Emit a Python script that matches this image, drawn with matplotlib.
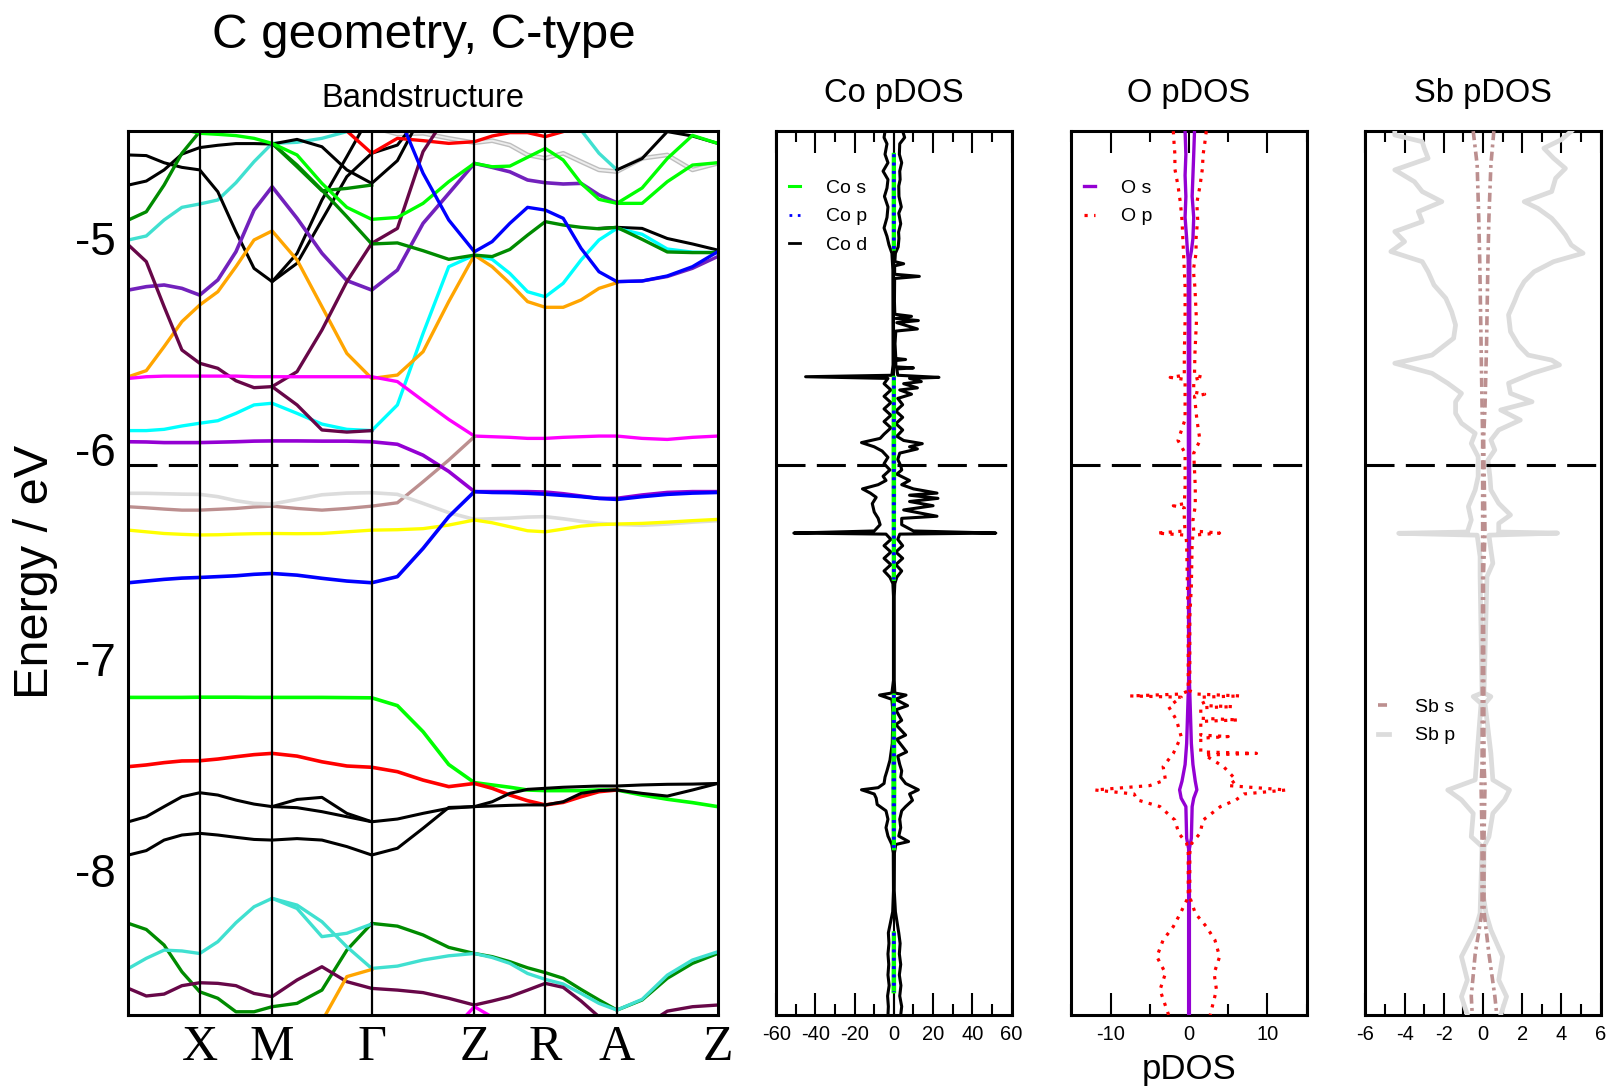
import numpy as np
import matplotlib
matplotlib.use("Agg")
import matplotlib.pyplot as plt
from matplotlib.ticker import MultipleLocator

nan = float("nan")
plt.rcParams["font.family"] = ["Liberation Sans", "DejaVu Sans"]

# ---------------- band structure data ----------------
k_nodes = [0.0, 1.86, 3.75, 6.35, 9.03, 10.88, 12.75, 15.38]
k_labels = ["", "X", "M", "Γ", "Z", "R", "A", "Z"]
e_fermi = -6.075
e_min, e_max = -8.689, -4.487

N = [nan]

magenta = [-5.665, -5.657, -5.654, -5.654, -5.654, -5.654, -5.654, -5.657, -5.657, -5.657, -5.657, -5.657, -5.657,
           -5.680, -5.771, -5.860, -5.939, -5.942, -5.945, -5.950, -5.950, -5.945, -5.942, -5.939, -5.939, -5.950,
           -5.955, -5.945, -5.939]
magenta_lo = N * 15 + [-8.78, -8.651, -8.70, -8.78] + N * 10
violet = [-5.966, -5.967, -5.970, -5.970, -5.970, -5.968, -5.966, -5.963, -5.962, -5.962, -5.963, -5.963, -5.966,
          -5.978, -6.030, -6.107, -6.203, -6.203, -6.203, -6.203, -6.205, -6.213, -6.224, -6.235, -6.235, -6.219,
          -6.207, -6.203, -6.203]
cyan = [-5.913, -5.913, -5.907, -5.891, -5.878, -5.866, -5.831, -5.791, -5.783, -5.831, -5.882, -5.907, -5.913,
        -5.791, -5.451, -5.134, -5.079, -5.099, -5.166, -5.253, -5.277, -5.213, -5.102, -5.007, -4.952, -4.98,
        -5.05, -5.065, -5.067]
orange = [-5.657, -5.628, -5.514, -5.395, -5.316, -5.253, -5.134, -5.007, -4.964, -5.102, -5.324, -5.546, -5.665,
          -5.649, -5.538, -5.300, -5.079, -5.134, -5.213, -5.300, -5.327, -5.327, -5.292, -5.237, -5.210] + N * 4
orange_lo = N * 10 + [-8.72, -8.508, -8.474] + N * 16
maroon_a = [-5.031, -5.110, -5.324, -5.530, -5.593, -5.617, -5.676, -5.709, -5.704, -5.791, -5.910, -5.920,
            -5.913] + N * 16
maroon_b = N * 8 + [-5.704, -5.633, -5.435, -5.205, -5.023, -4.952, -4.587, -4.40] + N * 13
maroon_lo = [-8.564, -8.600, -8.591, -8.551, -8.537, -8.540, -8.551, -8.588, -8.603, -8.524, -8.461, -8.532, -8.564,
             -8.572, -8.584, -8.611, -8.643, -8.624, -8.603, -8.572, -8.540, -8.559, -8.624, -8.699, -8.76, -8.75,
             -8.672, -8.651, -8.643]
indigo = [-5.245, -5.229, -5.221, -5.237, -5.269, -5.197, -5.063, -4.865, -4.754, -4.904, -5.070, -5.200, -5.245,
          -5.150, -4.928, -4.786, -4.643, -4.662, -4.683, -4.722, -4.735, -4.741, -4.738, -4.793, -4.830] + N * 4
indigo_b = N * 24 + [-5.205, -5.202, -5.181, -5.142, -5.086]
blue_up = N * 13 + [-4.40, -4.690, -4.912, -5.063, -5.015, -4.928, -4.852, -4.865, -4.904, -5.047, -5.158, -5.205,
                    -5.202, -5.178, -5.134, -5.063]
blue_lo = [-6.636, -6.628, -6.620, -6.614, -6.611, -6.607, -6.603, -6.596, -6.592, -6.600, -6.615, -6.628, -6.636,
           -6.607, -6.473, -6.322, -6.203, -6.207, -6.208, -6.211, -6.215, -6.221, -6.227, -6.235, -6.240, -6.227,
           -6.216, -6.210, -6.207]
yellow = [-6.386, -6.394, -6.402, -6.406, -6.409, -6.408, -6.405, -6.403, -6.402, -6.403, -6.402, -6.394, -6.386,
          -6.384, -6.379, -6.362, -6.338, -6.351, -6.370, -6.389, -6.394, -6.381, -6.367, -6.360, -6.357, -6.354,
          -6.348, -6.341, -6.335]
brown = [-6.275, -6.280, -6.286, -6.291, -6.291, -6.287, -6.283, -6.276, -6.272, -6.283, -6.291, -6.283, -6.272,
         -6.256, -6.156, -6.053, -5.942] + N * 12
grey_lo = [-6.211, -6.211, -6.213, -6.215, -6.216, -6.227, -6.246, -6.259, -6.262, -6.240, -6.218, -6.210, -6.208,
           -6.216, -6.259, -6.303, -6.335, -6.332, -6.329, -6.324, -6.322, -6.332, -6.344, -6.354, -6.359, -6.363,
           -6.357, -6.348, -6.341]
grey_up = N * 12 + [-4.47, -4.504, -4.500, -4.524, -4.545, -4.535, -4.556, -4.603, -4.619, -4.595, -4.635, -4.674,
                    -4.682, -4.619, -4.603, -4.674, -4.643]
lime_lo = [-7.181, -7.181, -7.181, -7.181, -7.180, -7.180, -7.180, -7.181, -7.181, -7.181, -7.181, -7.182, -7.183,
           -7.220, -7.344, -7.500, -7.586, -7.597, -7.608, -7.621, -7.624, -7.624, -7.624, -7.621, -7.621, -7.645,
           -7.665, -7.681, -7.700]
lime_up = N * 3 + [-4.48, -4.500, -4.505, -4.511, -4.524, -4.548, -4.603, -4.738, -4.852, -4.909, -4.900, -4.833,
                   -4.730, -4.643, -4.659, -4.656, -4.614, -4.572, -4.627, -4.738, -4.814, -4.833, -4.833, -4.730,
                   -4.651, -4.640]
lime_b = N * 24 + [-4.833, -4.76, -4.62, -4.51, -4.548]
green4_a = [-4.912, -4.873, -4.746, -4.595, -4.492, -4.45] + N * 23
green4_b = N * 8 + [-4.548, -4.651, -4.770, -4.896, -5.026, -5.021, -5.058, -5.099, -5.079, -5.086, -5.052, -4.984,
                    -4.920, -4.936, -4.947, -4.954, -4.947, -5.004, -5.064, -5.067, -5.067]
green4_c = N * 8 + [-4.548, -4.659, -4.773, -4.762, -4.746] + N * 16
green4_lo = [-8.255, -8.284, -8.358, -8.485, -8.580, -8.611, -8.675, -8.675, -8.651, -8.635, -8.572, -8.382, -8.255,
             -8.268, -8.310, -8.369, -8.398, -8.413, -8.437, -8.466, -8.489, -8.516, -8.569, -8.619, -8.667, -8.619,
             -8.516, -8.445, -8.398]
turq_a = [-5.007, -4.988, -4.912, -4.852, -4.836, -4.817, -4.735, -4.635, -4.548, -4.543, -4.524, -4.492,
          -4.40] + N * 16
turq_b = N * 21 + [-4.42, -4.485, -4.595, -4.674] + N * 4
turq_lo = [-8.469, -8.421, -8.382, -8.386, -8.398, -8.342, -8.252, -8.176, -8.136, -8.168, -8.247, -8.366, -8.469,
           -8.458, -8.429, -8.409, -8.398, -8.417, -8.445, -8.493, -8.521, -8.543, -8.588, -8.635, -8.667, -8.616,
           -8.501, -8.429, -8.390]
turq_lo_b = N * 8 + [-8.136, -8.184, -8.318, -8.302, -8.258] + N * 16
black_a = [-4.603, -4.606, -4.640, -4.662, -4.674, -4.778, -4.968, -5.142, -5.205, -5.071, -4.817, -4.611,
           -4.40] + N * 16
black_b = [-4.746, -4.727, -4.674, -4.599, -4.568, -4.557, -4.549, -4.549, -4.551, -4.529, -4.564, -4.674, -4.738,
           -4.630, -4.40] + N * 14
black_c = N * 8 + [-5.205, -5.118, -4.912, -4.706, -4.595, -4.556, -4.40] + N * 14
black_d = N * 24 + [-4.674, -4.62, -4.492, -4.513, -4.548]
black_e = N * 23 + [-4.952, -4.947, -4.952, -5.000, -5.026, -5.055]
red_up = N * 10 + [-4.42, -4.489, -4.595, -4.524, -4.535, -4.548, -4.540, -4.513, -4.497, -4.497, -4.516, -4.492,
                   -4.42] + N * 6
red_lo = [-7.510, -7.502, -7.491, -7.483, -7.482, -7.474, -7.463, -7.453, -7.447, -7.460, -7.487, -7.507, -7.513,
          -7.534, -7.574, -7.605, -7.590, -7.613, -7.645, -7.672, -7.692, -7.680, -7.653, -7.629, -7.621] + N * 4
black_lo1 = [-7.772, -7.748, -7.700, -7.653, -7.634, -7.645, -7.669, -7.688, -7.700, -7.666, -7.656, -7.732, -7.772,
             -7.759, -7.732, -7.708, -7.700, -7.677, -7.637, -7.618, -7.613, -7.608, -7.605, -7.602, -7.602, -7.597,
             -7.594, -7.593, -7.590]
black_lo2 = N * 8 + [-7.700, -7.705, -7.724, -7.748, -7.772] + N * 16
black_lo3 = [-7.930, -7.909, -7.859, -7.835, -7.827, -7.835, -7.846, -7.856, -7.859, -7.852, -7.859, -7.890, -7.930,
             -7.898, -7.803, -7.704, -7.700, -7.697, -7.694, -7.692, -7.692, -7.677, -7.637, -7.624, -7.621, -7.637,
             -7.650, -7.621, -7.590]

bands = [
    (grey_up, "#BEBEBE", 3.4), (grey_up, "#EDEDED", 1.4),
    (turq_a, "#40E0D0", 2.4), (turq_b, "#40E0D0", 2.4),
    (black_a, "black", 2.2), (black_b, "black", 2.2), (black_c, "black", 2.2),
    (black_d, "black", 2.2), (black_e, "black", 2.2), (red_up, "red", 2.4),
    (cyan, "cyan", 2.4), (orange, "orange", 2.4), (indigo, "#7221BC", 2.6), (indigo_b, "#7221BC", 2.4),
    (maroon_a, "#670748", 2.4), (maroon_b, "#670748", 2.4),
    (green4_a, "#008B00", 2.4), (green4_b, "#008B00", 2.4), (green4_c, "#008B00", 2.4),
    (lime_up, "#00FF00", 2.4), (lime_b, "#00FF00", 2.4), (blue_up, "blue", 2.4),
    (magenta, "magenta", 2.4), (brown, "#BC8F8F", 2.4), (violet, "#9400D3", 2.6),
    (grey_lo, "#DCDCDC", 2.6), (yellow, "yellow", 2.4), (blue_lo, "blue", 2.6),
    (lime_lo, "#00FF00", 2.6), (red_lo, "red", 2.6),
    (black_lo1, "black", 2.2), (black_lo2, "black", 2.2), (black_lo3, "black", 2.2),
    (green4_lo, "#008B00", 2.4), (turq_lo, "#40E0D0", 2.4), (turq_lo_b, "#40E0D0", 2.4),
    (maroon_lo, "#670748", 2.4), (orange_lo, "orange", 2.4), (magenta_lo, "magenta", 2.4),
]

# ---------------- pDOS data: (energy, value), spin up right / spin down left ----------------
co_d_up = [(-4.49, 4.5), (-4.52, 5.5), (-4.55, 3.0), (-4.60, 2.8), (-4.64, 4.0), (-4.68, 3.0), (-4.72, 3.2),
           (-4.75, 2.5), (-4.80, 2.6), (-4.85, 3.8), (-4.88, 2.5), (-4.93, 3.5), (-4.97, 2.4), (-5.00, 2.6),
           (-5.04, 2.2), (-5.07, 0.8), (-5.11, 0.5), (-5.12, 5.0), (-5.13, 0.4), (-5.17, 0.4), (-5.18, 13.0),
           (-5.19, 0.4), (-5.30, 0.3), (-5.36, 0.5), (-5.37, 9.0), (-5.38, 1.0), (-5.39, 12.5), (-5.40, 1.5),
           (-5.43, 12.0), (-5.44, 1.0), (-5.50, 0.6), (-5.57, 1.0), (-5.575, 6.0), (-5.58, 1.0), (-5.61, 1.0),
           (-5.615, 10.0), (-5.62, 1.5), (-5.65, 2.0), (-5.66, 23.0), (-5.665, 8.0), (-5.68, 14.0), (-5.69, 5.0),
           (-5.71, 12.0), (-5.72, 3.0), (-5.74, 9.0), (-5.76, 2.0), (-5.79, 4.5), (-5.82, 1.0), (-5.85, 4.5),
           (-5.88, 1.0), (-5.91, 4.5), (-5.94, 1.5), (-5.96, 5.0), (-5.975, 14.5), (-5.99, 8.0), (-6.00, 12.0),
           (-6.02, 3.0), (-6.05, 2.0), (-6.08, 3.5), (-6.10, 4.0), (-6.12, 1.5), (-6.15, 8.0), (-6.17, 4.0),
           (-6.19, 10.0), (-6.21, 22.0), (-6.22, 8.0), (-6.235, 22.5), (-6.25, 8.0), (-6.27, 20.0), (-6.29, 5.0),
           (-6.32, 22.0), (-6.33, 4.0), (-6.36, 4.0), (-6.39, 10.0), (-6.40, 52.0), (-6.405, 3.0), (-6.43, 2.0),
           (-6.46, 4.5), (-6.49, 1.0), (-6.52, 4.5), (-6.55, 1.0), (-6.58, 4.0), (-6.61, 1.5), (-6.64, 0.5),
           (-6.70, 0.2), (-7.10, 0.2), (-7.16, 0.5), (-7.17, 6.2), (-7.19, 0.8), (-7.22, 7.0), (-7.24, 1.0),
           (-7.29, 4.0), (-7.31, 1.0), (-7.36, 6.0), (-7.38, 1.5), (-7.44, 6.5), (-7.46, 2.0), (-7.50, 3.0),
           (-7.53, 4.0), (-7.56, 3.5), (-7.59, 6.0), (-7.62, 12.5), (-7.64, 8.0), (-7.67, 9.5), (-7.70, 6.0),
           (-7.72, 4.0), (-7.76, 3.0), (-7.80, 3.5), (-7.84, 2.5), (-7.866, 7.5), (-7.88, 1.0), (-7.92, 0.3),
           (-8.10, 0.2), (-8.20, 0.8), (-8.30, 2.5), (-8.35, 3.2), (-8.40, 2.8), (-8.45, 3.5), (-8.50, 2.8),
           (-8.55, 3.6), (-8.60, 3.0), (-8.65, 4.0), (-8.69, 3.5)]
co_d_dn = [(-4.49, 4.5), (-4.52, 5.0), (-4.55, 3.5), (-4.60, 4.5), (-4.64, 3.0), (-4.68, 5.5), (-4.72, 3.0),
           (-4.76, 3.5), (-4.80, 4.8), (-4.85, 3.0), (-4.90, 3.5), (-4.95, 5.0), (-4.99, 3.5), (-5.03, 2.5),
           (-5.07, 1.0), (-5.15, 0.5), (-5.60, 0.4), (-5.65, 1.0), (-5.657, 45.0), (-5.665, 3.0), (-5.69, 5.0),
           (-5.72, 1.5), (-5.75, 5.0), (-5.78, 1.5), (-5.81, 5.0), (-5.84, 1.5), (-5.87, 5.0), (-5.90, 1.5),
           (-5.93, 5.0), (-5.95, 7.0), (-5.97, 16.5), (-5.99, 10.0), (-6.01, 6.0), (-6.04, 3.0), (-6.07, 5.0),
           (-6.10, 2.0), (-6.13, 5.5), (-6.15, 4.0), (-6.17, 8.0), (-6.19, 16.0), (-6.21, 12.0), (-6.23, 9.0),
           (-6.26, 11.0), (-6.30, 10.0), (-6.33, 8.0), (-6.36, 7.0), (-6.39, 10.0), (-6.40, 51.0), (-6.405, 4.0),
           (-6.43, 1.5), (-6.46, 5.0), (-6.49, 1.5), (-6.52, 5.0), (-6.55, 1.5), (-6.58, 5.0), (-6.61, 2.0),
           (-6.64, 0.5), (-6.70, 0.2), (-7.10, 0.2), (-7.16, 1.0), (-7.17, 7.3), (-7.19, 1.0), (-7.25, 0.5),
           (-7.40, 0.8), (-7.48, 2.0), (-7.53, 3.5), (-7.56, 4.5), (-7.59, 5.0), (-7.61, 8.0), (-7.62, 16.5),
           (-7.64, 10.0), (-7.66, 9.0), (-7.69, 8.5), (-7.72, 4.0), (-7.76, 3.0), (-7.80, 4.0), (-7.84, 3.0),
           (-7.88, 1.0), (-7.92, 0.3), (-8.10, 0.2), (-8.20, 0.6), (-8.30, 2.8), (-8.35, 2.5), (-8.40, 3.0),
           (-8.45, 2.6), (-8.50, 3.0), (-8.55, 2.4), (-8.60, 3.2), (-8.65, 2.8), (-8.69, 3.0)]
co_s = [(-4.60, 0.3), (-4.80, 0.35), (-5.05, 0.3), (nan, nan), (-5.66, 0.3), (-6.00, 0.4), (-6.30, 0.35),
        (-6.62, 0.3), (nan, nan), (-7.17, 0.3), (-7.60, 0.5), (-7.90, 0.3), (nan, nan), (-8.30, 0.3), (-8.58, 0.4)]
co_p = [(-4.60, 0.25), (-4.80, 0.3), (-5.05, 0.25), (nan, nan), (-5.66, 0.25), (-6.00, 0.3), (-6.30, 0.3),
        (-6.62, 0.25), (nan, nan), (-7.17, 0.25), (-7.60, 0.4), (-7.90, 0.25), (nan, nan), (-8.30, 0.25),
        (-8.58, 0.3)]

o_p_up = [(-4.49, 2.2), (-4.55, 2.0), (-4.60, 1.8), (-4.67, 1.7), (-4.75, 1.4), (-4.83, 1.0), (-4.91, 1.1),
          (-5.00, 0.9), (-5.07, 0.9), (-5.15, 0.55), (-5.23, 0.75), (-5.39, 0.95), (-5.55, 0.75), (-5.65, 0.7),
          (-5.66, 1.8), (-5.67, 0.6), (-5.73, 0.6), (-5.74, 2.0), (-5.75, 0.7), (-5.86, 1.0), (-5.96, 1.4),
          (-6.02, 0.6), (-6.18, 0.8), (-6.27, 0.8), (-6.34, 0.5), (-6.39, 0.6), (-6.40, 3.9), (-6.41, 0.5),
          (-6.45, 0.4), (-6.65, 0.3), (-6.80, 0.1), (-7.15, 0.1), (-7.165, 1.0), (-7.174, 6.5), (-7.18, 1.5),
          (-7.22, 2.0), (-7.225, 5.6), (-7.23, 1.5), (-7.28, 1.5), (-7.288, 6.3), (-7.295, 1.5), (-7.36, 1.5),
          (-7.367, 5.0), (-7.375, 1.5), (-7.44, 1.5), (-7.447, 8.6), (-7.455, 2.0), (-7.51, 4.4), (-7.573, 6.0),
          (-7.60, 5.0), (-7.621, 12.4), (-7.64, 7.0), (-7.668, 6.0), (-7.70, 4.0), (-7.764, 1.8), (-7.827, 1.4),
          (-7.874, 0.35), (-7.92, 0.1), (-8.13, 0.1), (-8.207, 0.8), (-8.27, 2.2), (-8.334, 3.3), (-8.413, 3.9),
          (-8.492, 3.2), (-8.571, 3.5), (-8.69, 2.7)]
o_p_dn = [(-4.49, 2.0), (-4.55, 1.9), (-4.60, 1.8), (-4.67, 1.8), (-4.75, 1.4), (-4.83, 1.1), (-4.91, 0.9),
          (-5.07, 0.7), (-5.15, 0.6), (-5.23, 0.5), (-5.39, 0.5), (-5.55, 0.6), (-5.65, 0.6), (-5.66, 2.4),
          (-5.67, 0.5), (-5.86, 0.5), (-5.96, 1.4), (-6.02, 0.5), (-6.18, 0.5), (-6.26, 0.6), (-6.27, 2.0),
          (-6.28, 0.6), (-6.34, 0.6), (-6.39, 0.5), (-6.40, 4.1), (-6.41, 0.4), (-6.45, 0.3), (-6.65, 0.2),
          (-6.80, 0.1), (-7.15, 0.1), (-7.165, 1.0), (-7.174, 7.5), (-7.18, 1.0), (-7.225, 2.6), (-7.288, 1.6),
          (-7.367, 1.0), (-7.447, 2.0), (-7.51, 3.3), (-7.573, 3.0), (-7.60, 5.0), (-7.621, 12.0), (-7.64, 7.0),
          (-7.668, 6.6), (-7.70, 3.7), (-7.764, 1.8), (-7.827, 1.3), (-7.874, 0.3), (-7.92, 0.1), (-8.13, 0.1),
          (-8.207, 1.1), (-8.27, 2.0), (-8.334, 3.3), (-8.413, 4.1), (-8.492, 3.0), (-8.571, 3.7), (-8.69, 2.6)]
o_s_up = [(-4.49, 0.7), (-4.60, 0.6), (-4.70, 0.5), (-4.80, 0.4), (-4.90, 0.6), (-5.00, 0.5), (-5.06, 0.3),
          (-5.10, 0.1), (-7.10, 0.05), (-7.40, 0.3), (-7.50, 0.5), (-7.58, 0.8), (-7.62, 1.0), (-7.66, 0.6),
          (-7.70, 0.4), (-7.85, 0.3), (-7.90, 0.05), (-8.69, 0.05)]
o_s_dn = [(-4.49, 0.5), (-4.60, 0.4), (-4.70, 0.5), (-4.80, 0.4), (-4.90, 0.5), (-5.00, 0.3), (-5.06, 0.2),
          (-5.10, 0.1), (-7.10, 0.05), (-7.40, 0.3), (-7.50, 0.5), (-7.58, 0.9), (-7.62, 1.2), (-7.66, 1.0),
          (-7.70, 0.4), (-7.85, 0.3), (-7.90, 0.05), (-8.69, 0.05)]

sb_p_up = [(-4.49, 4.5), (-4.53, 4.0), (-4.571, 3.1), (-4.619, 3.6), (-4.667, 4.2), (-4.714, 3.7), (-4.777, 3.5),
           (-4.825, 2.1), (-4.857, 2.8), (-4.904, 3.5), (-4.936, 3.8), (-4.983, 4.2), (-5.031, 4.5), (-5.070, 5.1),
           (-5.110, 3.6), (-5.158, 2.6), (-5.205, 2.1), (-5.253, 1.8), (-5.300, 1.6), (-5.363, 1.3), (-5.443, 1.4),
           (-5.506, 1.8), (-5.554, 2.3), (-5.578, 3.5), (-5.601, 3.9), (-5.641, 2.5), (-5.688, 1.3), (-5.736, 1.4),
           (-5.776, 2.5), (-5.815, 0.9), (-5.863, 1.9), (-5.910, 0.8), (-5.958, 0.4), (-6.005, 0.6), (-6.053, 0.25),
           (-6.132, 0.35), (-6.195, 0.4), (-6.259, 0.8), (-6.314, 1.4), (-6.354, 0.8), (-6.395, 0.8), (-6.400, 3.8),
           (-6.41, 0.3), (-6.480, 0.4), (-6.544, 0.5), (-6.607, 0.2), (-7.16, 0.05), (-7.177, 0.4), (-7.21, 0.1),
           (-7.29, 0.2), (-7.447, 0.4), (-7.573, 0.5), (-7.621, 1.35), (-7.668, 1.1), (-7.732, 0.5), (-7.843, 0.3),
           (-7.89, 0.05), (-8.128, 0.02), (-8.207, 0.15), (-8.286, 0.4), (-8.413, 1.0), (-8.524, 0.8),
           (-8.603, 1.2), (-8.69, 0.9)]
sb_p_dn = [(-4.49, 4.5), (-4.508, 4.5), (-4.540, 3.1), (-4.571, 3.0), (-4.619, 2.8), (-4.674, 4.5), (-4.730, 3.5),
           (-4.777, 3.1), (-4.825, 2.1), (-4.872, 3.3), (-4.920, 3.1), (-4.967, 4.5), (-5.015, 4.0), (-5.062, 4.7),
           (-5.110, 3.1), (-5.158, 2.8), (-5.221, 2.5), (-5.284, 1.9), (-5.348, 1.6), (-5.411, 1.4), (-5.474, 1.5),
           (-5.554, 2.6), (-5.593, 4.5), (-5.641, 2.6), (-5.688, 1.8), (-5.736, 1.1), (-5.776, 1.4), (-5.831, 1.4),
           (-5.878, 1.1), (-5.926, 0.4), (-5.974, 0.6), (-6.037, 0.25), (-6.132, 0.25), (-6.195, 0.4),
           (-6.274, 0.75), (-6.338, 0.6), (-6.395, 0.8), (-6.401, 4.3), (-6.41, 0.3), (-6.512, 0.15),
           (-6.607, 0.15), (-7.16, 0.05), (-7.177, 0.5), (-7.21, 0.1), (-7.447, 0.3), (-7.573, 0.4), (-7.621, 1.8),
           (-7.668, 1.1), (-7.732, 0.5), (-7.843, 0.6), (-7.89, 0.05), (-8.207, 0.15), (-8.286, 0.4), (-8.413, 1.1),
           (-8.524, 0.8), (-8.603, 1.1), (-8.69, 0.8)]
sb_s_up = [(-4.49, 0.55), (-4.65, 0.4), (-4.90, 0.3), (-5.10, 0.25), (-5.50, 0.18), (-5.80, 0.1), (-5.95, 0.03),
           (-6.40, 0.1), (-6.60, 0.02), (-7.50, 0.05), (-7.60, 0.1), (-7.85, 0.05), (-8.20, 0.05), (-8.40, 0.3),
           (-8.60, 0.6), (-8.69, 0.7)]
sb_s_dn = [(-4.49, 0.5), (-4.65, 0.3), (-4.90, 0.22), (-5.10, 0.17), (-5.50, 0.1), (-5.80, 0.05), (-5.95, 0.02),
           (-6.60, 0.02), (-7.50, 0.05), (-7.60, 0.1), (-7.85, 0.05), (-8.20, 0.05), (-8.40, 0.4), (-8.60, 0.6),
           (-8.69, 0.55)]


def unzip(pairs):
    e, v = zip(*pairs)
    return np.array(v), np.array(e)


fig = plt.figure(figsize=(16.12, 10.87), dpi=100)

# ---------------- band structure ----------------
ax = fig.add_axes([0.0797, 0.0665, 0.3655, 0.8134])
kpath = np.concatenate([np.linspace(a, b, 5)[:-1] for a, b in zip(k_nodes[:-1], k_nodes[1:])] + [[k_nodes[-1]]])
for vals, col, lw in bands:
    ax.plot(kpath, vals, color=col, lw=lw, solid_joinstyle="round")
for kn in k_nodes[1:-1]:
    ax.axvline(kn, color="black", lw=1.6, zorder=5)
ax.axhline(e_fermi, color="black", lw=2.2, dashes=(9.5, 3.7), zorder=6)
ax.set_xlim(k_nodes[0], k_nodes[-1])
ax.set_ylim(e_min, e_max)
ax.set_xticks([])
ax.set_yticks([-5, -6, -7, -8])
ax.set_yticklabels(["-5", "-6", "-7", "-8"])
ax.tick_params(axis="y", length=0, pad=9, labelsize=33)
for kn, lab in zip(k_nodes, k_labels):
    ax.text(kn, -0.0512, lab, transform=ax.get_xaxis_transform(), ha="center", va="baseline",
            fontsize=36, family=["Liberation Serif", "DejaVu Serif"])
ax.set_title("Bandstructure", fontsize=23.5, pad=16.8)
for s in ax.spines.values():
    s.set_linewidth(2.2)

fig.text(0.0223, 0.4741, "Energy / eV", rotation=90, ha="center", va="center", fontsize=35)
fig.text(0.2628, 0.9677, "C geometry, C-type", ha="center", va="center", fontsize=35.5)


# ---------------- pDOS panels ----------------
def dos_axes(left, lim, major, minor, title):
    a = fig.add_axes([left, 0.0665, 0.146, 0.8134])
    a.set_xlim(-lim, lim)
    a.set_ylim(e_min, e_max)
    a.set_yticks([])
    a.xaxis.set_major_locator(MultipleLocator(major))
    a.xaxis.set_minor_locator(MultipleLocator(minor))
    a.tick_params(axis="x", which="both", direction="in", top=True, bottom=True, width=1.5, labelsize=14.5,
                  pad=7.2)
    a.tick_params(axis="x", which="major", length=16)
    a.tick_params(axis="x", which="minor", length=8)
    a.xaxis.set_major_formatter(lambda v, p: f"{v:g}")
    a.set_title(title, fontsize=23.5, pad=20.8)
    a.axhline(e_fermi, color="black", lw=2.2, dashes=(9.5, 3.7), zorder=6)
    for s in a.spines.values():
        s.set_linewidth(2.2)
    return a


def spin_pair(a, up, dn, label, **kw):
    v, e = unzip(up)
    a.plot(v, e, label=label, **kw)
    v, e = unzip(dn)
    a.plot(-v, e, **kw)


def leg(a, y0):
    a.legend(loc="upper left", bbox_to_anchor=(0.055, y0), frameon=False, fontsize=14, handlelength=0.55,
             handletextpad=1.35, labelspacing=0.57, borderpad=0, borderaxespad=0)


ax_co = dos_axes(0.4815, 60, 20, 10, "Co pDOS")
ax_co.axvline(0, color="black", lw=1.5, zorder=1)
spin_pair(ax_co, co_d_up, co_d_dn, None, color="black", lw=2.2, zorder=2)
spin_pair(ax_co, co_s, co_s, "Co s", color="#00FF00", lw=2.2, zorder=3)
spin_pair(ax_co, co_p, co_p, "Co p", color="blue", lw=2.0, ls=(0, (1, 2)), zorder=4)
ax_co.plot([], [], color="black", lw=2.0, label="Co d")
leg(ax_co, 0.945)

ax_o = dos_axes(0.6646, 15, 10, 5, "O pDOS")
spin_pair(ax_o, o_s_up, o_s_dn, "O s", color="#9400D3", lw=2.4, zorder=3)
spin_pair(ax_o, o_p_up, o_p_dn, "O p", color="red", lw=2.3, ls=(0, (1, 2)), zorder=4)
ax_o.set_xlabel("pDOS", fontsize=25, labelpad=6.5)
leg(ax_o, 0.945)

ax_sb = dos_axes(0.8470, 6, 2, 1, "Sb pDOS")
spin_pair(ax_sb, sb_s_up, sb_s_dn, "Sb s", color="#BC8F8F", lw=2.6, ls=(0, (2.5, 1.2, 0.8, 1.2)), zorder=4)
spin_pair(ax_sb, sb_p_up, sb_p_dn, "Sb p", color="#DCDCDC", lw=3.4, zorder=3)
leg(ax_sb, 0.358)

fig.savefig("out.png", dpi=100)
